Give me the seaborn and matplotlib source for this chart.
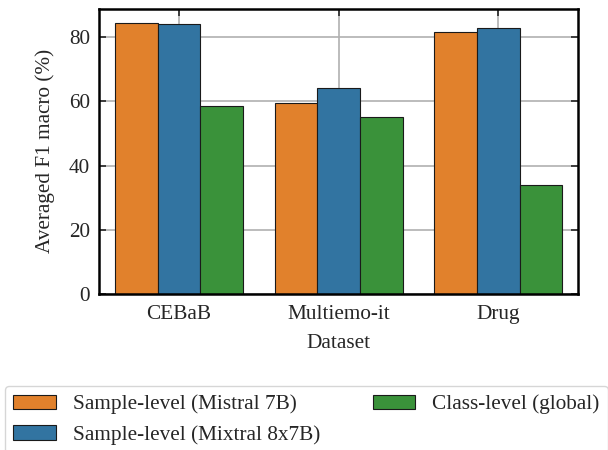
import matplotlib
matplotlib.use("Agg")
import matplotlib.pyplot as plt
import seaborn as sns
import pandas as pd

datasets = ["CEBaB", "Multiemo-it", "Drug"]
methods = ["Sample-level (Mistral 7B)", "Sample-level (Mixtral 8x7B)", "Class-level (global)"]
mistral = [84.6, 59.4, 81.7]
mixtral = [84.0, 64.2, 83.0]
classlvl = [58.6, 55.2, 34.1]
colors = ["#e1812c", "#3274a1", "#3a923a"]

rows = []
for vals, m in zip([mistral, mixtral, classlvl], methods):
    for d, v in zip(datasets, vals):
        rows.append({"Dataset": d, "Method": m, "F1": v})
df = pd.DataFrame(rows)

sns.set_style("ticks")
plt.rcParams["font.family"] = ["Liberation Serif", "DejaVu Serif"]
FS = 15.3
plt.rcParams["font.size"] = FS

fig = plt.figure(figsize=(6.08, 4.5), dpi=100)
ax = fig.add_axes([0.163, 0.347, 0.788, 0.633])
sns.barplot(data=df, x="Dataset", y="F1", hue="Method", hue_order=methods,
            order=datasets, palette=colors, saturation=1, edgecolor="#1a1a1a",
            linewidth=0.8, ax=ax, legend=True)
ax.set_axisbelow(True)
ax.grid(True, color="#b0b0b0", linewidth=1.2)
ax.set_xlabel("Dataset", fontsize=FS, labelpad=7)
ax.set_ylabel("Averaged F1 macro (%)", fontsize=FS, labelpad=10)
ax.set_yticks([0, 20, 40, 60, 80])
ax.tick_params(direction="in", top=True, right=True, length=5, width=1.2, labelsize=FS)
ax.tick_params(axis="x", pad=8)
ax.tick_params(axis="y", pad=6.5)
for s in ax.spines.values():
    s.set_linewidth(1.8)
    s.set_color("black")

handles, labels = ax.get_legend_handles_labels()
ax.get_legend().remove()
fig.legend(handles, labels, loc="upper left", bbox_to_anchor=(0.0076, 0.142),
           ncol=2, fontsize=FS, frameon=True, handlelength=2.0,
           columnspacing=2.5, borderaxespad=0)

fig.savefig("out.png", dpi=100)
